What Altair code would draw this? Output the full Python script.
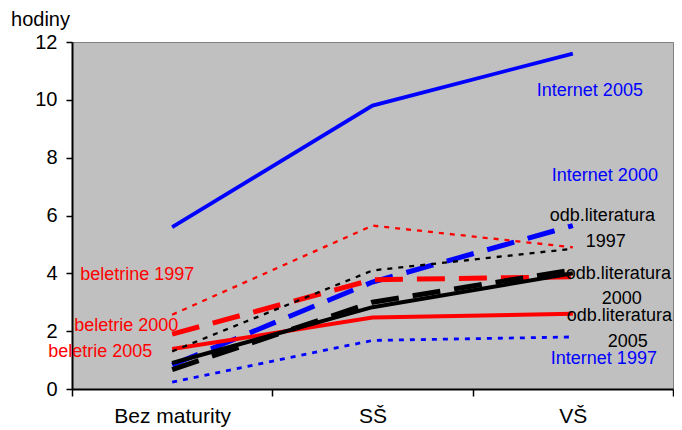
import altair as alt
import pandas as pd

categories = ["Bez maturity", "SŠ", "VŠ"]

internet_1997 = [0.24, 1.68, 1.80]
internet_2000 = [0.83, 3.70, 5.65]
internet_2005 = [5.60, 9.80, 11.60]
beletrie_1997 = [2.57, 5.65, 4.90]
beletrie_2000 = [1.90, 3.78, 3.88]
beletrie_2005 = [1.38, 2.47, 2.60]
odb_1997 = [1.30, 4.10, 4.85]
odb_2000 = [0.67, 3.00, 4.12]
odb_2005 = [0.90, 2.83, 4.00]

# drawing order: blue, red, black (later on top)
series = [
    ("Internet 1997", internet_1997, "#0000FF", [5, 6], 2.8),
    ("Internet 2000", internet_2000, "#0000FF", [28, 14], 5),
    ("Internet 2005", internet_2005, "#0000FF", None, 3.8),
    ("beletrie 1997", beletrie_1997, "#FF0000", [5, 6], 2.3),
    ("beletrie 2000", beletrie_2000, "#FF0000", [28, 14], 5),
    ("beletrie 2005", beletrie_2005, "#FF0000", None, 4),
    ("odb 1997", odb_1997, "#000000", [5, 6], 2.3),
    ("odb 2000", odb_2000, "#000000", [28, 14], 5),
    ("odb 2005", odb_2005, "#000000", None, 4),
]

# annotation texts: (text, anchor category, value, pixel dx, colour)
label_texts = ["Internet 2005", "Internet 2000", "odb.literatura", "1997",
               "odb.literatura", "2000", "odb.literatura", "2005",
               "Internet 1997", "beletrine 1997", "beletrie 2000", "beletrie 2005"]
label_cats = ["VŠ"] * 9 + ["Bez maturity"] * 3
label_vals = [10.3, 7.37, 5.98, 5.08, 3.98, 3.11, 2.52, 1.63, 1.04, 3.94, 2.18, 1.28]
label_dx = [-36, -21, -23, 13, -7, 29, -6, 35, -22, -92, -98, -124]
label_colors = ["#0000FF", "#0000FF", "#000000", "#000000", "#000000", "#000000",
                "#000000", "#000000", "#0000FF", "#FF0000", "#FF0000", "#FF0000"]

FONT = "Liberation Sans"

x_enc = alt.X(
    "cat:N",
    sort=categories,
    scale=alt.Scale(domain=categories, paddingInner=0, paddingOuter=0),
    axis=alt.Axis(
        title=None, labelAngle=0, tickBand="extent", domainColor="#000000",
        domainWidth=2, tickColor="#000000", tickSize=7, tickWidth=1.5,
        labelFontSize=21, labelColor="#000000", labelFont=FONT, labelPadding=9,
    ),
)
y_enc = alt.Y(
    "value:Q",
    scale=alt.Scale(domain=[0, 12], nice=False),
    axis=alt.Axis(
        values=[0, 2, 4, 6, 8, 10, 12], grid=False, title="hodiny", titleAngle=0,
        titleX=-32, titleY=-23, titleAlign="center", titleBaseline="middle",
        titleFontSize=20, titleFontWeight="normal", titleFont=FONT, titleColor="#000000",
        domainColor="#000000", domainWidth=2, tickColor="#000000", tickSize=6,
        tickWidth=1.5, labelFontSize=20, labelFont=FONT, labelColor="#000000",
        labelPadding=9,
    ),
)

layers = []
for name, vals, color, dash, width in series:
    df = pd.DataFrame({"cat": categories, "value": vals, "series": name})
    kw = dict(color=color, strokeWidth=width)
    if dash is not None:
        kw["strokeDash"] = dash
    layers.append(alt.Chart(df).mark_line(**kw).encode(x=x_enc, y=y_enc))

for t, c, v, dx, col in zip(label_texts, label_cats, label_vals, label_dx, label_colors):
    df = pd.DataFrame({"cat": [c], "value": [v], "txt": [t]})
    layers.append(
        alt.Chart(df).mark_text(
            align="left", baseline="middle", dx=dx, fontSize=18, font=FONT, color=col
        ).encode(x=x_enc, y=y_enc, text="txt:N")
    )

chart = (
    alt.layer(*layers)
    .properties(
        width=601, height=347,
        autosize=alt.AutoSizeParams(type="none"),
        padding={"left": 64, "top": 34, "right": 1, "bottom": 41},
        background="#FFFFFF",
    )
    .configure_view(fill="#C0C0C0", stroke="#808080", strokeWidth=1)
)

chart.save("out.html", embed_options={"renderer": "svg", "actions": False})
